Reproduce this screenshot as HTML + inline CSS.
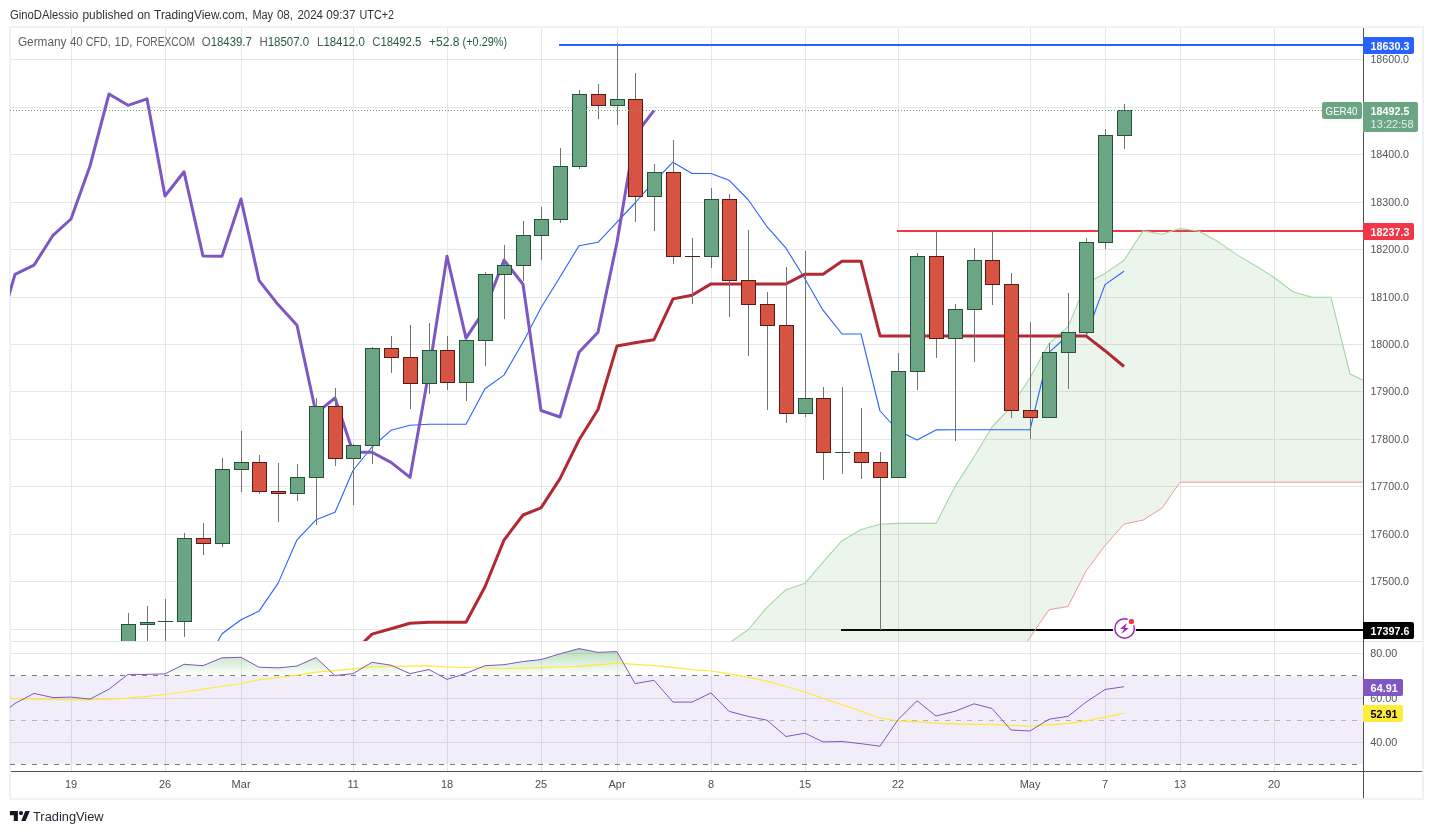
<!DOCTYPE html>
<html lang="en"><head><meta charset="utf-8"><title>GER40 chart</title>
<style>html,body{margin:0;padding:0;background:#fff}body{width:1433px;height:834px;overflow:hidden}svg{display:block}text{font-family:"Liberation Sans", sans-serif}</style></head><body>
<svg width="1433" height="834" viewBox="0 0 1433 834">
<defs>
<clipPath id="cm"><rect x="10" y="28" width="1353" height="613"/></clipPath>
<clipPath id="cr"><rect x="10" y="642" width="1353" height="129"/></clipPath>
<linearGradient id="gob" gradientUnits="userSpaceOnUse" x1="0" y1="609" x2="0" y2="675.75"><stop offset="0" stop-color="#4caf50" stop-opacity="1"/><stop offset="1" stop-color="#4caf50" stop-opacity="0"/></linearGradient>
</defs>
<rect width="1433" height="834" fill="#fff"/>
<g shape-rendering="crispEdges">
<rect x="9" y="26" width="1415" height="2" fill="#f0f1f6"/>
<rect x="9" y="798" width="1415" height="2" fill="#f0f1f6"/>
<rect x="9" y="26" width="2" height="774" fill="#f0f1f6"/>
<rect x="1422" y="26" width="2" height="774" fill="#f0f1f6"/>
<rect x="71" y="28" width="1" height="743" fill="#e6e6e6"/>
<rect x="165" y="28" width="1" height="743" fill="#e6e6e6"/>
<rect x="241" y="28" width="1" height="743" fill="#e6e6e6"/>
<rect x="353" y="28" width="1" height="743" fill="#e6e6e6"/>
<rect x="447" y="28" width="1" height="743" fill="#e6e6e6"/>
<rect x="541" y="28" width="1" height="743" fill="#e6e6e6"/>
<rect x="617" y="28" width="1" height="743" fill="#e6e6e6"/>
<rect x="711" y="28" width="1" height="743" fill="#e6e6e6"/>
<rect x="805" y="28" width="1" height="743" fill="#e6e6e6"/>
<rect x="898" y="28" width="1" height="743" fill="#e6e6e6"/>
<rect x="1030" y="28" width="1" height="743" fill="#e6e6e6"/>
<rect x="1105" y="28" width="1" height="743" fill="#e6e6e6"/>
<rect x="1180" y="28" width="1" height="743" fill="#e6e6e6"/>
<rect x="1274" y="28" width="1" height="743" fill="#e6e6e6"/>
<rect x="11" y="59" width="1352" height="1" fill="#e6e6e6"/>
<rect x="11" y="107" width="1352" height="1" fill="#e6e6e6"/>
<rect x="11" y="154" width="1352" height="1" fill="#e6e6e6"/>
<rect x="11" y="202" width="1352" height="1" fill="#e6e6e6"/>
<rect x="11" y="249" width="1352" height="1" fill="#e6e6e6"/>
<rect x="11" y="297" width="1352" height="1" fill="#e6e6e6"/>
<rect x="11" y="344" width="1352" height="1" fill="#e6e6e6"/>
<rect x="11" y="391" width="1352" height="1" fill="#e6e6e6"/>
<rect x="11" y="439" width="1352" height="1" fill="#e6e6e6"/>
<rect x="11" y="486" width="1352" height="1" fill="#e6e6e6"/>
<rect x="11" y="534" width="1352" height="1" fill="#e6e6e6"/>
<rect x="11" y="581" width="1352" height="1" fill="#e6e6e6"/>
<rect x="11" y="629" width="1352" height="1" fill="#e6e6e6"/>
<rect x="11" y="653" width="1352" height="1" fill="#e6e6e6"/>
<rect x="11" y="698" width="1352" height="1" fill="#e6e6e6"/>
<rect x="11" y="742" width="1352" height="1" fill="#e6e6e6"/>
<rect x="11" y="641" width="1411" height="1" fill="#e0e3eb"/>
</g>
<g clip-path="url(#cm)">
<g shape-rendering="crispEdges">
<rect x="559" y="44" width="804" height="2" fill="#2962ff"/>
<rect x="897" y="230" width="466" height="2" fill="#f23645"/>
<rect x="841" y="629" width="522" height="2" fill="#000"/>
</g>
<polygon points="729.0,643.0 748.0,630.0 767.0,607.3 786.0,589.7 805.0,583.3 823.0,562.1 842.0,540.7 861.0,529.5 880.0,524.3 898.0,523.4 917.0,523.4 936.0,523.4 955.0,486.4 974.0,457.0 992.0,427.0 1011.0,407.0 1030.0,377.8 1049.0,343.7 1068.0,326.6 1086.0,283.5 1105.0,273.4 1124.0,260.3 1143.0,230.9 1162.0,234.2 1180.0,228.4 1199.0,231.2 1218.0,241.6 1237.0,254.9 1256.0,266.0 1274.0,277.5 1293.0,291.8 1312.0,297.3 1331.0,297.3 1350.0,374.0 1368.0,382.5 1368.0,482.2 1199.0,482.2 1180.0,482.2 1162.0,508.2 1143.0,520.1 1124.0,524.1 1105.0,545.6 1086.0,571.1 1068.0,606.5 1049.0,609.7 1030.0,637.5 1011.0,666.0 729.0,900.0" fill="#43a047" fill-opacity="0.1"/>
<polyline points="729.0,643.0 748.0,630.0 767.0,607.3 786.0,589.7 805.0,583.3 823.0,562.1 842.0,540.7 861.0,529.5 880.0,524.3 898.0,523.4 917.0,523.4 936.0,523.4 955.0,486.4 974.0,457.0 992.0,427.0 1011.0,407.0 1030.0,377.8 1049.0,343.7 1068.0,326.6 1086.0,283.5 1105.0,273.4 1124.0,260.3 1143.0,230.9 1162.0,234.2 1180.0,228.4 1199.0,231.2 1218.0,241.6 1237.0,254.9 1256.0,266.0 1274.0,277.5 1293.0,291.8 1312.0,297.3 1331.0,297.3 1350.0,374.0 1368.0,382.5" fill="none" stroke="#a5d6a7" stroke-width="1.1" stroke-linejoin="round"/>
<polyline points="1011.0,666.0 1030.0,637.5 1049.0,609.7 1068.0,606.5 1086.0,571.1 1105.0,545.6 1124.0,524.1 1143.0,520.1 1162.0,508.2 1180.0,482.2 1199.0,482.2 1368.0,482.2" fill="none" stroke="#ef9a9a" stroke-width="1" stroke-linejoin="round"/>
<polyline points="203.0,668.0 222.0,633.8 241.0,619.7 259.0,611.1 278.0,583.4 297.0,539.8 316.0,519.8 335.0,512.3 353.0,470.5 372.0,447.0 391.0,430.3 410.0,425.2 429.0,424.3 447.0,424.3 466.0,424.3 485.0,388.7 504.0,375.1 523.0,342.2 541.0,307.8 560.0,277.0 579.0,245.7 598.0,242.3 617.0,222.2 635.0,203.0 654.0,181.6 673.0,162.2 692.0,173.5 711.0,173.5 729.0,180.2 748.0,199.5 767.0,226.7 786.0,248.2 805.0,279.0 823.0,310.2 842.0,334.0 861.0,334.0 880.0,411.0 898.0,430.5 917.0,439.9 936.0,429.9 955.0,429.8 974.0,429.8 992.0,429.8 1011.0,429.8 1030.0,429.8 1049.0,352.3 1068.0,335.5 1086.0,336.0 1105.0,284.6 1124.0,271.2" fill="none" stroke="#2962ff" stroke-width="1.1" stroke-linejoin="round"/>
<polyline points="353.0,652.5 372.0,634.1 391.0,628.7 410.0,623.3 429.0,622.3 447.0,622.3 466.0,622.3 485.0,586.7 504.0,540.1 523.0,515.0 541.0,507.9 560.0,478.6 579.0,440.0 598.0,409.5 617.0,345.9 635.0,342.8 654.0,339.7 673.0,298.9 692.0,295.2 711.0,283.9 729.0,283.9 748.0,283.9 767.0,283.9 786.0,283.9 805.0,274.2 823.0,274.2 842.0,261.3 861.0,261.3 880.0,335.9 898.0,335.9 917.0,335.9 936.0,335.9 955.0,335.9 974.0,335.9 992.0,335.9 1011.0,335.9 1030.0,335.9 1049.0,335.9 1068.0,335.9 1086.0,335.9 1105.0,350.7 1124.0,366.5" fill="none" stroke="#b22833" stroke-width="3" stroke-linejoin="round"/>
<polyline points="-4.0,340.2 15.0,274.3 34.0,265.2 53.0,235.3 71.0,219.0 90.0,166.0 109.0,94.0 128.0,105.3 147.0,98.8 165.0,196.0 184.0,171.8 203.0,256.0 222.0,256.2 241.0,199.0 259.0,280.3 278.0,304.6 297.0,325.2 316.0,413.3 335.0,398.0 353.0,452.3 372.0,452.3 391.0,462.4 410.0,477.4 429.0,371.3 447.0,256.3 466.0,338.2 485.0,309.4 504.0,260.1 523.0,284.2 541.0,410.5 560.0,417.0 579.0,352.3 598.0,332.2 617.0,242.2 635.0,135.4 654.0,110.3" fill="none" stroke="#7e57c2" stroke-width="3" stroke-linejoin="round"/>
<g shape-rendering="crispEdges">
<rect x="128" y="613" width="1" height="57" fill="#737375"/>
<rect x="121" y="624" width="15" height="36" fill="#225437"/>
<rect x="122" y="625" width="13" height="34" fill="#6ba583"/>
<rect x="147" y="606" width="1" height="64" fill="#737375"/>
<rect x="140" y="622" width="15" height="3" fill="#225437"/>
<rect x="141" y="623" width="13" height="1" fill="#6ba583"/>
<rect x="165" y="599" width="1" height="71" fill="#737375"/>
<rect x="158" y="621" width="15" height="1" fill="#225437"/>
<rect x="184" y="533" width="1" height="104" fill="#737375"/>
<rect x="177" y="538" width="15" height="84" fill="#225437"/>
<rect x="178" y="539" width="13" height="82" fill="#6ba583"/>
<rect x="203" y="523" width="1" height="32" fill="#737375"/>
<rect x="196" y="538" width="15" height="6" fill="#5b1a13"/>
<rect x="197" y="539" width="13" height="4" fill="#d75442"/>
<rect x="222" y="458" width="1" height="89" fill="#737375"/>
<rect x="215" y="469" width="15" height="75" fill="#225437"/>
<rect x="216" y="470" width="13" height="73" fill="#6ba583"/>
<rect x="241" y="431" width="1" height="61" fill="#737375"/>
<rect x="234" y="462" width="15" height="8" fill="#225437"/>
<rect x="235" y="463" width="13" height="6" fill="#6ba583"/>
<rect x="259" y="455" width="1" height="39" fill="#737375"/>
<rect x="252" y="462" width="15" height="30" fill="#5b1a13"/>
<rect x="253" y="463" width="13" height="28" fill="#d75442"/>
<rect x="278" y="463" width="1" height="59" fill="#737375"/>
<rect x="271" y="491" width="15" height="3" fill="#5b1a13"/>
<rect x="272" y="492" width="13" height="1" fill="#d75442"/>
<rect x="297" y="464" width="1" height="37" fill="#737375"/>
<rect x="290" y="477" width="15" height="17" fill="#225437"/>
<rect x="291" y="478" width="13" height="15" fill="#6ba583"/>
<rect x="316" y="398" width="1" height="127" fill="#737375"/>
<rect x="309" y="406" width="15" height="72" fill="#225437"/>
<rect x="310" y="407" width="13" height="70" fill="#6ba583"/>
<rect x="335" y="388" width="1" height="78" fill="#737375"/>
<rect x="328" y="406" width="15" height="53" fill="#5b1a13"/>
<rect x="329" y="407" width="13" height="51" fill="#d75442"/>
<rect x="353" y="444" width="1" height="61" fill="#737375"/>
<rect x="346" y="445" width="15" height="14" fill="#225437"/>
<rect x="347" y="446" width="13" height="12" fill="#6ba583"/>
<rect x="372" y="347" width="1" height="117" fill="#737375"/>
<rect x="365" y="348" width="15" height="98" fill="#225437"/>
<rect x="366" y="349" width="13" height="96" fill="#6ba583"/>
<rect x="391" y="336" width="1" height="37" fill="#737375"/>
<rect x="384" y="348" width="15" height="10" fill="#5b1a13"/>
<rect x="385" y="349" width="13" height="8" fill="#d75442"/>
<rect x="410" y="325" width="1" height="84" fill="#737375"/>
<rect x="403" y="357" width="15" height="27" fill="#5b1a13"/>
<rect x="404" y="358" width="13" height="25" fill="#d75442"/>
<rect x="429" y="323" width="1" height="71" fill="#737375"/>
<rect x="422" y="350" width="15" height="34" fill="#225437"/>
<rect x="423" y="351" width="13" height="32" fill="#6ba583"/>
<rect x="447" y="336" width="1" height="54" fill="#737375"/>
<rect x="440" y="350" width="15" height="33" fill="#5b1a13"/>
<rect x="441" y="351" width="13" height="31" fill="#d75442"/>
<rect x="466" y="340" width="1" height="61" fill="#737375"/>
<rect x="459" y="340" width="15" height="43" fill="#225437"/>
<rect x="460" y="341" width="13" height="41" fill="#6ba583"/>
<rect x="485" y="272" width="1" height="94" fill="#737375"/>
<rect x="478" y="274" width="15" height="67" fill="#225437"/>
<rect x="479" y="275" width="13" height="65" fill="#6ba583"/>
<rect x="504" y="245" width="1" height="74" fill="#737375"/>
<rect x="497" y="265" width="15" height="10" fill="#225437"/>
<rect x="498" y="266" width="13" height="8" fill="#6ba583"/>
<rect x="523" y="221" width="1" height="60" fill="#737375"/>
<rect x="516" y="235" width="15" height="31" fill="#225437"/>
<rect x="517" y="236" width="13" height="29" fill="#6ba583"/>
<rect x="541" y="207" width="1" height="53" fill="#737375"/>
<rect x="534" y="219" width="15" height="17" fill="#225437"/>
<rect x="535" y="220" width="13" height="15" fill="#6ba583"/>
<rect x="560" y="148" width="1" height="75" fill="#737375"/>
<rect x="553" y="166" width="15" height="54" fill="#225437"/>
<rect x="554" y="167" width="13" height="52" fill="#6ba583"/>
<rect x="579" y="90" width="1" height="79" fill="#737375"/>
<rect x="572" y="94" width="15" height="73" fill="#225437"/>
<rect x="573" y="95" width="13" height="71" fill="#6ba583"/>
<rect x="598" y="84" width="1" height="35" fill="#737375"/>
<rect x="591" y="94" width="15" height="12" fill="#5b1a13"/>
<rect x="592" y="95" width="13" height="10" fill="#d75442"/>
<rect x="617" y="43" width="1" height="82" fill="#737375"/>
<rect x="610" y="99" width="15" height="7" fill="#225437"/>
<rect x="611" y="100" width="13" height="5" fill="#6ba583"/>
<rect x="635" y="73" width="1" height="149" fill="#737375"/>
<rect x="628" y="99" width="15" height="98" fill="#5b1a13"/>
<rect x="629" y="100" width="13" height="96" fill="#d75442"/>
<rect x="654" y="164" width="1" height="67" fill="#737375"/>
<rect x="647" y="172" width="15" height="25" fill="#225437"/>
<rect x="648" y="173" width="13" height="23" fill="#6ba583"/>
<rect x="673" y="140" width="1" height="124" fill="#737375"/>
<rect x="666" y="172" width="15" height="85" fill="#5b1a13"/>
<rect x="667" y="173" width="13" height="83" fill="#d75442"/>
<rect x="692" y="238" width="1" height="66" fill="#737375"/>
<rect x="685" y="256" width="15" height="1" fill="#5b1a13"/>
<rect x="711" y="188" width="1" height="80" fill="#737375"/>
<rect x="704" y="199" width="15" height="58" fill="#225437"/>
<rect x="705" y="200" width="13" height="56" fill="#6ba583"/>
<rect x="729" y="194" width="1" height="123" fill="#737375"/>
<rect x="722" y="199" width="15" height="82" fill="#5b1a13"/>
<rect x="723" y="200" width="13" height="80" fill="#d75442"/>
<rect x="748" y="230" width="1" height="126" fill="#737375"/>
<rect x="741" y="280" width="15" height="25" fill="#5b1a13"/>
<rect x="742" y="281" width="13" height="23" fill="#d75442"/>
<rect x="767" y="292" width="1" height="118" fill="#737375"/>
<rect x="760" y="304" width="15" height="22" fill="#5b1a13"/>
<rect x="761" y="305" width="13" height="20" fill="#d75442"/>
<rect x="786" y="267" width="1" height="156" fill="#737375"/>
<rect x="779" y="325" width="15" height="89" fill="#5b1a13"/>
<rect x="780" y="326" width="13" height="87" fill="#d75442"/>
<rect x="805" y="251" width="1" height="166" fill="#737375"/>
<rect x="798" y="398" width="15" height="16" fill="#225437"/>
<rect x="799" y="399" width="13" height="14" fill="#6ba583"/>
<rect x="823" y="387" width="1" height="93" fill="#737375"/>
<rect x="816" y="398" width="15" height="55" fill="#5b1a13"/>
<rect x="817" y="399" width="13" height="53" fill="#d75442"/>
<rect x="842" y="387" width="1" height="87" fill="#737375"/>
<rect x="835" y="452" width="15" height="1" fill="#225437"/>
<rect x="861" y="408" width="1" height="71" fill="#737375"/>
<rect x="854" y="452" width="15" height="11" fill="#5b1a13"/>
<rect x="855" y="453" width="13" height="9" fill="#d75442"/>
<rect x="880" y="452" width="1" height="178" fill="#737375"/>
<rect x="873" y="462" width="15" height="16" fill="#5b1a13"/>
<rect x="874" y="463" width="13" height="14" fill="#d75442"/>
<rect x="898" y="353" width="1" height="125" fill="#737375"/>
<rect x="891" y="371" width="15" height="107" fill="#225437"/>
<rect x="892" y="372" width="13" height="105" fill="#6ba583"/>
<rect x="917" y="253" width="1" height="137" fill="#737375"/>
<rect x="910" y="256" width="15" height="116" fill="#225437"/>
<rect x="911" y="257" width="13" height="114" fill="#6ba583"/>
<rect x="936" y="231" width="1" height="127" fill="#737375"/>
<rect x="929" y="256" width="15" height="83" fill="#5b1a13"/>
<rect x="930" y="257" width="13" height="81" fill="#d75442"/>
<rect x="955" y="304" width="1" height="137" fill="#737375"/>
<rect x="948" y="309" width="15" height="30" fill="#225437"/>
<rect x="949" y="310" width="13" height="28" fill="#6ba583"/>
<rect x="974" y="248" width="1" height="114" fill="#737375"/>
<rect x="967" y="260" width="15" height="50" fill="#225437"/>
<rect x="968" y="261" width="13" height="48" fill="#6ba583"/>
<rect x="992" y="230" width="1" height="75" fill="#737375"/>
<rect x="985" y="260" width="15" height="25" fill="#5b1a13"/>
<rect x="986" y="261" width="13" height="23" fill="#d75442"/>
<rect x="1011" y="273" width="1" height="145" fill="#737375"/>
<rect x="1004" y="284" width="15" height="127" fill="#5b1a13"/>
<rect x="1005" y="285" width="13" height="125" fill="#d75442"/>
<rect x="1030" y="322" width="1" height="117" fill="#737375"/>
<rect x="1023" y="410" width="15" height="8" fill="#5b1a13"/>
<rect x="1024" y="411" width="13" height="6" fill="#d75442"/>
<rect x="1049" y="343" width="1" height="75" fill="#737375"/>
<rect x="1042" y="352" width="15" height="66" fill="#225437"/>
<rect x="1043" y="353" width="13" height="64" fill="#6ba583"/>
<rect x="1068" y="293" width="1" height="96" fill="#737375"/>
<rect x="1061" y="332" width="15" height="21" fill="#225437"/>
<rect x="1062" y="333" width="13" height="19" fill="#6ba583"/>
<rect x="1086" y="238" width="1" height="97" fill="#737375"/>
<rect x="1079" y="242" width="15" height="91" fill="#225437"/>
<rect x="1080" y="243" width="13" height="89" fill="#6ba583"/>
<rect x="1105" y="129" width="1" height="120" fill="#737375"/>
<rect x="1098" y="135" width="15" height="108" fill="#225437"/>
<rect x="1099" y="136" width="13" height="106" fill="#6ba583"/>
<rect x="1124" y="104" width="1" height="45" fill="#737375"/>
<rect x="1117" y="110" width="15" height="26" fill="#225437"/>
<rect x="1118" y="111" width="13" height="24" fill="#6ba583"/>
</g>
<line x1="10" y1="110.5" x2="1322" y2="110.5" stroke="#6ba583" stroke-width="1" stroke-dasharray="1 2" shape-rendering="crispEdges"/>
</g>
<g>
<circle cx="1124.4" cy="628.5" r="11.5" fill="#fff"/>
<circle cx="1124.6" cy="628.45" r="9.75" fill="#fff" stroke="#9c27b0" stroke-width="1.5"/>
<path d="M1126.95 623.1 L1120.1 628.75 L1124.2 629.05 L1121.2 633.9 L1128.8 628.15 L1125.0 627.85 Z" fill="#9c27b0"/>
<circle cx="1131.4" cy="621.5" r="4.3" fill="#fff"/>
<rect x="1128.8" y="618.9" width="5.2" height="5.2" rx="2.2" ry="2.2" fill="#f23645"/>
</g>
<g clip-path="url(#cr)">
<rect x="10" y="676" width="1353" height="88" fill="#7e57c2" fill-opacity="0.1"/>
<polygon points="126.3,675.8 128.0,674.4 147.0,674.4 165.0,673.9 184.0,664.3 203.0,665.7 222.0,657.8 241.0,657.3 259.0,667.2 278.0,667.9 297.0,666.0 316.0,657.6 335.0,675.6 353.0,673.6 372.0,662.3 391.0,665.2 410.0,673.6 429.0,669.5 440.4,675.8" fill="url(#gob)"/>
<polygon points="458.4,675.8 466.0,673.3 485.0,665.7 504.0,664.7 523.0,661.5 541.0,659.6 560.0,653.8 579.0,648.6 598.0,652.4 617.0,651.6 630.6,675.8" fill="url(#gob)"/>
<g shape-rendering="crispEdges">
<line x1="10" y1="675.5" x2="1363" y2="675.5" stroke="#787b86" stroke-width="1" stroke-dasharray="5 6"/>
<line x1="10" y1="720.5" x2="1363" y2="720.5" stroke="#787b86" stroke-opacity="0.5" stroke-width="1" stroke-dasharray="5 6"/>
<line x1="10" y1="764.5" x2="1363" y2="764.5" stroke="#787b86" stroke-width="1" stroke-dasharray="5 6"/>
</g>
<polyline points="-4.0,698.2 15.0,698.6 34.0,699.1 53.0,699.6 71.0,699.8 90.0,699.6 109.0,699.2 128.0,698.0 147.0,696.3 165.0,694.5 184.0,692.0 203.0,689.2 222.0,686.5 241.0,683.5 259.0,679.8 278.0,677.5 297.0,675.2 316.0,672.2 335.0,670.7 353.0,668.9 372.0,666.9 391.0,666.4 410.0,666.1 429.0,665.8 447.0,666.9 466.0,667.5 485.0,668.0 504.0,668.5 523.0,668.1 541.0,667.7 560.0,667.0 579.0,666.4 598.0,664.8 617.0,663.2 635.0,664.4 654.0,665.7 673.0,667.4 692.0,669.7 711.0,671.0 729.0,673.6 748.0,677.3 767.0,681.1 786.0,686.5 805.0,692.0 823.0,698.2 842.0,704.6 861.0,711.3 880.0,718.0 898.0,720.9 917.0,721.9 936.0,723.1 955.0,723.8 974.0,724.4 992.0,724.3 1011.0,725.3 1030.0,726.1 1049.0,724.8 1068.0,723.4 1086.0,720.9 1105.0,717.2 1124.0,713.2" fill="none" stroke="#ffe93b" stroke-width="1.2" stroke-linejoin="round"/>
<polyline points="-4.0,718.5 15.0,703.4 34.0,693.4 53.0,697.6 71.0,697.1 90.0,699.1 109.0,689.2 128.0,674.4 147.0,674.4 165.0,673.9 184.0,664.3 203.0,665.7 222.0,657.8 241.0,657.3 259.0,667.2 278.0,667.9 297.0,666.0 316.0,657.6 335.0,675.6 353.0,673.6 372.0,662.3 391.0,665.2 410.0,673.6 429.0,669.5 447.0,679.4 466.0,673.3 485.0,665.7 504.0,664.7 523.0,661.5 541.0,659.6 560.0,653.8 579.0,648.6 598.0,652.4 617.0,651.6 635.0,683.6 654.0,680.3 673.0,702.1 692.0,702.1 711.0,692.9 729.0,711.3 748.0,716.4 767.0,720.2 786.0,736.5 805.0,733.2 823.0,741.9 842.0,741.5 861.0,743.7 880.0,746.2 898.0,719.7 917.0,700.8 936.0,716.0 955.0,711.3 974.0,703.8 992.0,708.5 1011.0,730.0 1030.0,731.0 1049.0,719.2 1068.0,716.4 1086.0,702.1 1105.0,689.5 1124.0,686.7" fill="none" stroke="#7e57c2" stroke-width="1" stroke-linejoin="round"/>
</g>
<g shape-rendering="crispEdges">
<rect x="1363" y="28" width="1" height="770" fill="#4f4f4f"/>
<rect x="11" y="771" width="1411" height="1" fill="#4f4f4f"/>
</g>
<text x="1370.4" y="63.0" font-size="11" fill="#555555" font-weight="normal" text-anchor="start" textLength="38.6" lengthAdjust="spacingAndGlyphs">18600.0</text>
<text x="1370.4" y="158.0" font-size="11" fill="#555555" font-weight="normal" text-anchor="start" textLength="38.6" lengthAdjust="spacingAndGlyphs">18400.0</text>
<text x="1370.4" y="206.0" font-size="11" fill="#555555" font-weight="normal" text-anchor="start" textLength="38.6" lengthAdjust="spacingAndGlyphs">18300.0</text>
<text x="1370.4" y="253.0" font-size="11" fill="#555555" font-weight="normal" text-anchor="start" textLength="38.6" lengthAdjust="spacingAndGlyphs">18200.0</text>
<text x="1370.4" y="301.0" font-size="11" fill="#555555" font-weight="normal" text-anchor="start" textLength="38.6" lengthAdjust="spacingAndGlyphs">18100.0</text>
<text x="1370.4" y="348.0" font-size="11" fill="#555555" font-weight="normal" text-anchor="start" textLength="38.6" lengthAdjust="spacingAndGlyphs">18000.0</text>
<text x="1370.4" y="395.0" font-size="11" fill="#555555" font-weight="normal" text-anchor="start" textLength="38.6" lengthAdjust="spacingAndGlyphs">17900.0</text>
<text x="1370.4" y="443.0" font-size="11" fill="#555555" font-weight="normal" text-anchor="start" textLength="38.6" lengthAdjust="spacingAndGlyphs">17800.0</text>
<text x="1370.4" y="490.0" font-size="11" fill="#555555" font-weight="normal" text-anchor="start" textLength="38.6" lengthAdjust="spacingAndGlyphs">17700.0</text>
<text x="1370.4" y="538.0" font-size="11" fill="#555555" font-weight="normal" text-anchor="start" textLength="38.6" lengthAdjust="spacingAndGlyphs">17600.0</text>
<text x="1370.4" y="585.0" font-size="11" fill="#555555" font-weight="normal" text-anchor="start" textLength="38.6" lengthAdjust="spacingAndGlyphs">17500.0</text>
<text x="1370.2" y="657.0" font-size="11" fill="#555555" font-weight="normal" text-anchor="start" textLength="27.0" lengthAdjust="spacingAndGlyphs">80.00</text>
<text x="1370.2" y="702.0" font-size="11" fill="#555555" font-weight="normal" text-anchor="start" textLength="27.0" lengthAdjust="spacingAndGlyphs">60.00</text>
<text x="1370.2" y="746.0" font-size="11" fill="#555555" font-weight="normal" text-anchor="start" textLength="27.0" lengthAdjust="spacingAndGlyphs">40.00</text>
<text x="71.1" y="788.0" font-size="11" fill="#4d4d4d" font-weight="normal" text-anchor="middle">19</text>
<text x="165.1" y="788.0" font-size="11" fill="#4d4d4d" font-weight="normal" text-anchor="middle">26</text>
<text x="241.1" y="788.0" font-size="11" fill="#4d4d4d" font-weight="normal" text-anchor="middle">Mar</text>
<text x="353.1" y="788.0" font-size="11" fill="#4d4d4d" font-weight="normal" text-anchor="middle">11</text>
<text x="447.1" y="788.0" font-size="11" fill="#4d4d4d" font-weight="normal" text-anchor="middle">18</text>
<text x="541.1" y="788.0" font-size="11" fill="#4d4d4d" font-weight="normal" text-anchor="middle">25</text>
<text x="617.1" y="788.0" font-size="11" fill="#4d4d4d" font-weight="normal" text-anchor="middle">Apr</text>
<text x="711.1" y="788.0" font-size="11" fill="#4d4d4d" font-weight="normal" text-anchor="middle">8</text>
<text x="805.1" y="788.0" font-size="11" fill="#4d4d4d" font-weight="normal" text-anchor="middle">15</text>
<text x="898.1" y="788.0" font-size="11" fill="#4d4d4d" font-weight="normal" text-anchor="middle">22</text>
<text x="1030.1" y="788.0" font-size="11" fill="#4d4d4d" font-weight="normal" text-anchor="middle">May</text>
<text x="1105.1" y="788.0" font-size="11" fill="#4d4d4d" font-weight="normal" text-anchor="middle">7</text>
<text x="1180.1" y="788.0" font-size="11" fill="#4d4d4d" font-weight="normal" text-anchor="middle">13</text>
<text x="1274.1" y="788.0" font-size="11" fill="#4d4d4d" font-weight="normal" text-anchor="middle">20</text>
<path d="M1363 37 H1412 a2 2 0 0 1 2 2 V52 a2 2 0 0 1 -2 2 H1363 Z" fill="#2962ff"/>
<text x="1370.6" y="50.0" font-size="11" fill="#fff" font-weight="bold" text-anchor="start" textLength="38.8" lengthAdjust="spacingAndGlyphs">18630.3</text>
<path d="M1363 223 H1412 a2 2 0 0 1 2 2 V238 a2 2 0 0 1 -2 2 H1363 Z" fill="#f23645"/>
<text x="1370.6" y="236.0" font-size="11" fill="#fff" font-weight="bold" text-anchor="start" textLength="38.8" lengthAdjust="spacingAndGlyphs">18237.3</text>
<path d="M1363 622 H1412 a2 2 0 0 1 2 2 V637 a2 2 0 0 1 -2 2 H1363 Z" fill="#000000"/>
<text x="1370.6" y="635.0" font-size="11" fill="#fff" font-weight="bold" text-anchor="start" textLength="38.8" lengthAdjust="spacingAndGlyphs">17397.6</text>
<path d="M1363 679 H1401 a2 2 0 0 1 2 2 V694 a2 2 0 0 1 -2 2 H1363 Z" fill="#7e57c2"/>
<text x="1370.6" y="692.0" font-size="11" fill="#fff" font-weight="bold" text-anchor="start" textLength="27.2" lengthAdjust="spacingAndGlyphs">64.91</text>
<path d="M1363 705 H1401 a2 2 0 0 1 2 2 V720 a2 2 0 0 1 -2 2 H1363 Z" fill="#ffeb3b"/>
<text x="1370.6" y="718.0" font-size="11" fill="#000" font-weight="bold" text-anchor="start" textLength="27.0" lengthAdjust="spacingAndGlyphs">52.91</text>
<path d="M1363 102 H1416 a2 2 0 0 1 2 2 V130 a2 2 0 0 1 -2 2 H1363 Z" fill="#6ba583"/>
<text x="1370.6" y="115.0" font-size="11" fill="#fff" font-weight="bold" text-anchor="start" textLength="38.8" lengthAdjust="spacingAndGlyphs">18492.5</text>
<text x="1370.6" y="128.0" font-size="11" fill="#e3efe7" font-weight="normal" text-anchor="start" textLength="43.0" lengthAdjust="spacingAndGlyphs">13:22:58</text>
<rect x="1322" y="102" width="40" height="17" rx="2" ry="2" fill="#6ba583"/>
<text x="1325.6" y="115.0" font-size="11" fill="#fff" font-weight="normal" text-anchor="start" textLength="31.8" lengthAdjust="spacingAndGlyphs">GER40</text>
<text y="19.2" font-size="12" fill="#333333">
<tspan x="10.0" textLength="68.3" lengthAdjust="spacingAndGlyphs">GinoDAlessio</tspan> 
<tspan x="82.5" textLength="50.8" lengthAdjust="spacingAndGlyphs">published</tspan> 
<tspan x="137.2" textLength="13.1" lengthAdjust="spacingAndGlyphs">on</tspan> 
<tspan x="154.1" textLength="93.8" lengthAdjust="spacingAndGlyphs">TradingView.com,</tspan> 
<tspan x="252.4" textLength="20.7" lengthAdjust="spacingAndGlyphs">May</tspan> 
<tspan x="276.9" textLength="16.2" lengthAdjust="spacingAndGlyphs">08,</tspan> 
<tspan x="297.4" textLength="25.6" lengthAdjust="spacingAndGlyphs">2024</tspan> 
<tspan x="326.2" textLength="29.3" lengthAdjust="spacingAndGlyphs">09:37</tspan> 
<tspan x="359.6" textLength="34.4" lengthAdjust="spacingAndGlyphs">UTC+2</tspan>
</text>
<text y="45.8" font-size="12" fill="#606060">
<tspan x="17.9" textLength="48.6" lengthAdjust="spacingAndGlyphs">Germany</tspan> 
<tspan x="69.9" textLength="12.9" lengthAdjust="spacingAndGlyphs">40</tspan> 
<tspan x="85.7" textLength="25.0" lengthAdjust="spacingAndGlyphs">CFD,</tspan> 
<tspan x="114.5" textLength="17.9" lengthAdjust="spacingAndGlyphs">1D,</tspan> 
<tspan x="136.2" textLength="58.9" lengthAdjust="spacingAndGlyphs">FOREXCOM</tspan>
</text>
<text y="45.8" font-size="12">
<tspan x="201.8" fill="#606060" textLength="50.0" lengthAdjust="spacingAndGlyphs"><tspan fill="#606060">O</tspan><tspan fill="#245a3d">18439.7</tspan></tspan>
<tspan x="259.4" fill="#606060" textLength="49.8" lengthAdjust="spacingAndGlyphs"><tspan fill="#606060">H</tspan><tspan fill="#245a3d">18507.0</tspan></tspan>
<tspan x="317.0" fill="#606060" textLength="47.8" lengthAdjust="spacingAndGlyphs"><tspan fill="#606060">L</tspan><tspan fill="#245a3d">18412.0</tspan></tspan>
<tspan x="372.2" fill="#606060" textLength="49.2" lengthAdjust="spacingAndGlyphs"><tspan fill="#606060">C</tspan><tspan fill="#245a3d">18492.5</tspan></tspan>
</text>
<text y="45.8" font-size="12" fill="#245a3d">
<tspan x="429.0" textLength="30.5" lengthAdjust="spacingAndGlyphs">+52.8</tspan> 
<tspan x="462.6" textLength="44.5" lengthAdjust="spacingAndGlyphs">(+0.29%)</tspan>
</text>
<g fill="#131722">
<path d="M9.9 811 H17.9 V820.9 H13.8 V815.2 H9.9 Z"/>
<circle cx="21.0" cy="813.1" r="2.1"/>
<path d="M25.3 811 H29.8 L25.6 820.9 H21.2 Z"/>
</g>
<text x="33.0" y="820.9" font-size="13" fill="#262a35" font-weight="normal" text-anchor="start" textLength="70.6" lengthAdjust="spacingAndGlyphs">TradingView</text>
</svg></body></html>
